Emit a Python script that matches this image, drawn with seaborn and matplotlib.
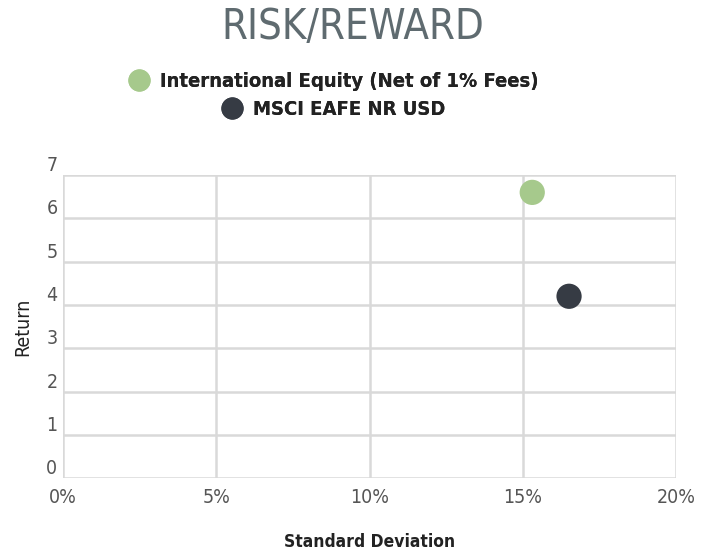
import pandas as pd
import seaborn as sns
import matplotlib.pyplot as plt
from matplotlib.ticker import PercentFormatter
from matplotlib.lines import Line2D

# data
series = ["International Equity (Net of 1% Fees)", "MSCI EAFE NR USD"]
std_dev = [15.3, 16.5]
returns = [6.6, 4.2]
colors = ["#a6c98c", "#363b44"]
x_ticks = [0, 5, 10, 15, 20]
y_ticks = [0, 1, 2, 3, 4, 5, 6, 7]

df = pd.DataFrame({"Series": series, "Std": std_dev, "Return": returns})

sns.set_style("white")
plt.rcParams["font.family"] = ["DejaVu Sans"]
plt.rcParams["font.stretch"] = "condensed"

fig = plt.figure(figsize=(7.05, 5.54), dpi=100)
ax = fig.add_axes([0.0894, 0.137, 0.87, 0.547])

sns.scatterplot(data=df, x="Std", y="Return", hue="Series", palette=colors,
                s=330, edgecolor="none", legend=False, ax=ax, zorder=3)

ax.set_xlim(0, 20)
ax.set_ylim(0, 7)
ax.set_xticks(x_ticks)
ax.set_yticks(y_ticks)
ax.xaxis.set_major_formatter(PercentFormatter(decimals=0))
ax.grid(True, color="#d9d9d9", linewidth=1.8)
ax.set_axisbelow(True)
for sp in ax.spines.values():
    sp.set_visible(False)
ax.tick_params(length=0, labelsize=14, labelcolor="#555555")
ax.tick_params(axis="x", pad=7)
ax.tick_params(axis="y", pad=4)
for t in ax.get_yticklabels():
    t.set_va("bottom")

ax.set_xlabel("Standard Deviation", fontsize=12.5, color="#222222",
              fontweight="bold", labelpad=19)
ax.set_ylabel("Return", fontsize=14, color="#222222", labelpad=10)

fig.suptitle("RISK/REWARD", y=0.99, fontsize=30, color="#5f6b70")

for i, (name, c) in enumerate(zip(series, colors)):
    h = Line2D([], [], marker="o", linestyle="none", markersize=16,
               markerfacecolor=c, markeredgecolor="none")
    leg = fig.legend([h], [name], loc="center", bbox_to_anchor=(0.466, 0.853 - i * 0.051),
                     frameon=False, handletextpad=0.05, borderpad=0,
                     prop={"size": 14.5, "weight": "bold"})
    for t in leg.get_texts():
        t.set_color("#222222")
    fig.add_artist(leg)

fig.savefig("out.png", dpi=100)
